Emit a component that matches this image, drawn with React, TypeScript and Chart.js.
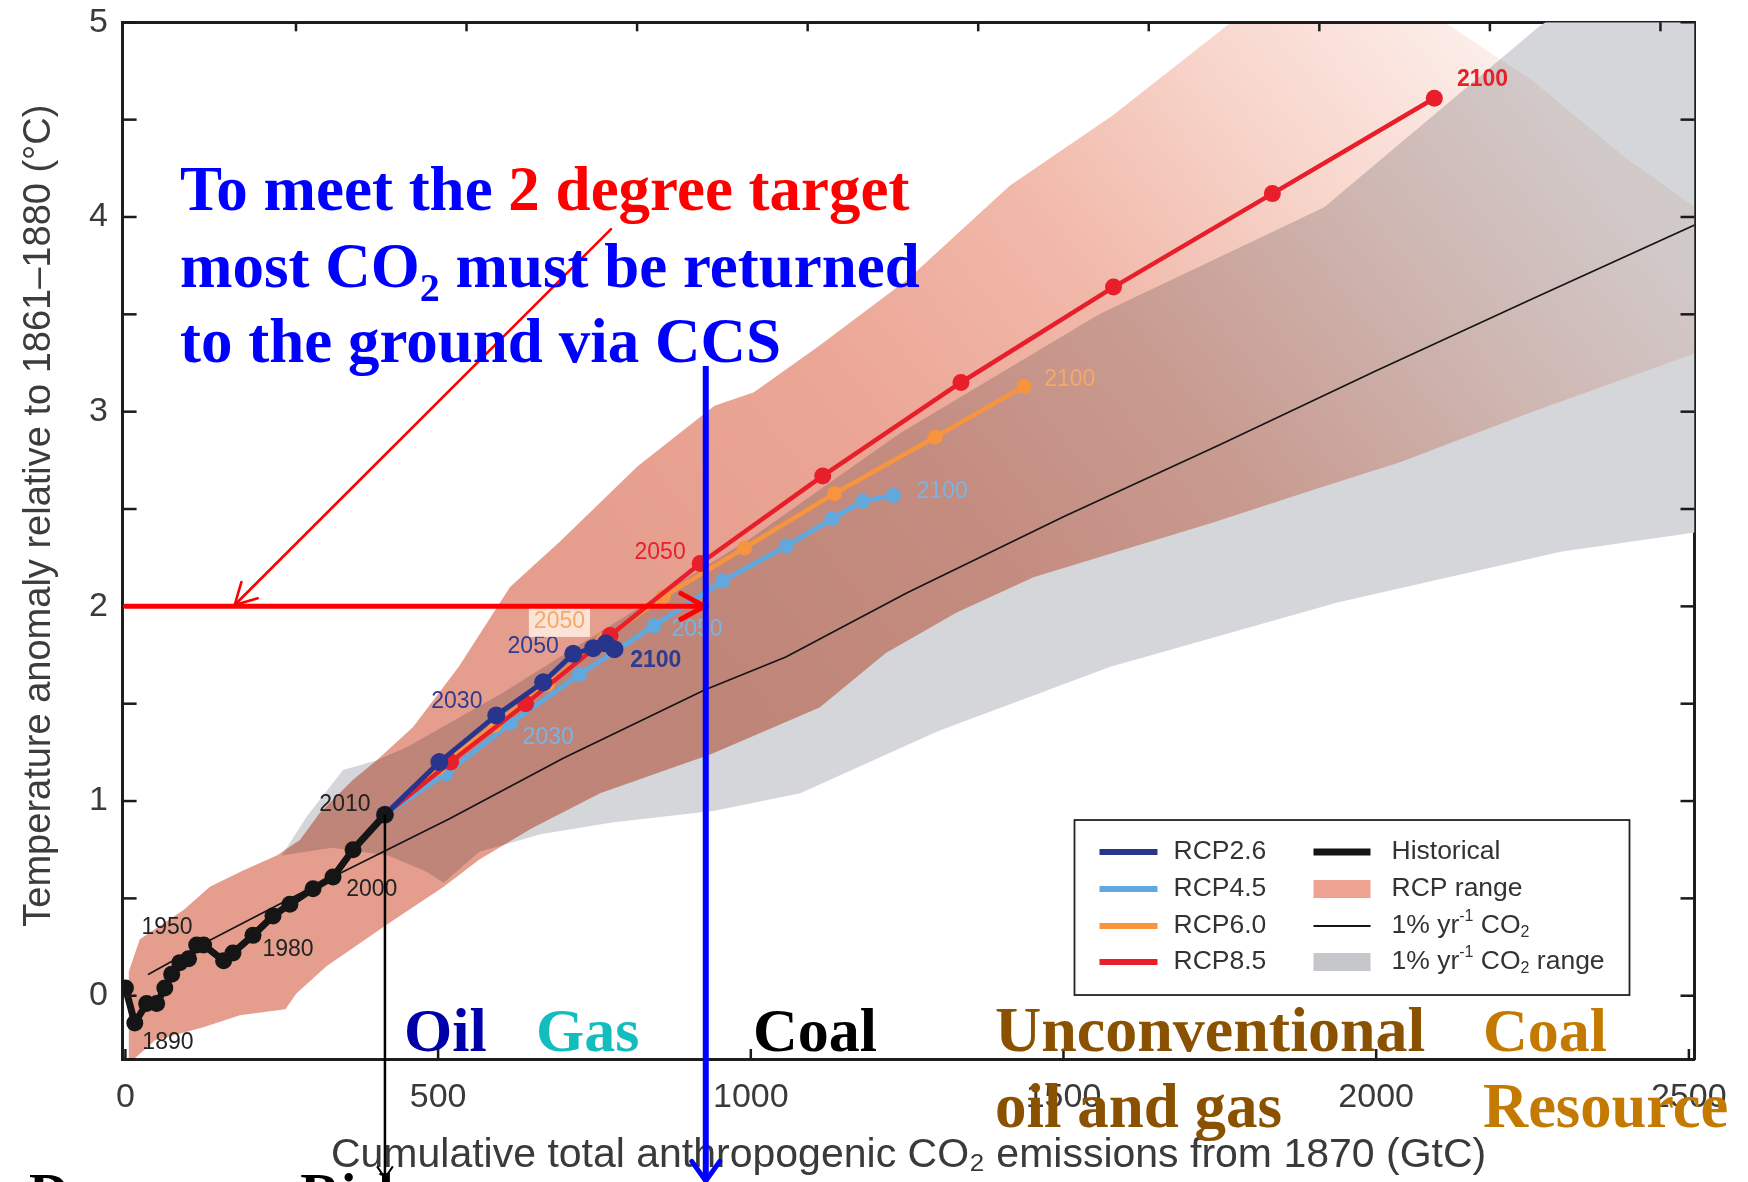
import React, { useEffect, useRef } from "react";
import { Chart, registerables } from "chart.js";

// ---------- plugin that multiplies band fills (so overlaps darken like the original) ----------
const bandBlendPlugin = {
  id: "bandBlend",
  beforeDatasetDraw(chart: any, args: any) {
    const ds: any = chart.data.datasets[args.index];
    if (ds && ds.blendMultiply) chart.ctx.globalCompositeOperation = "multiply";
  },
  afterDatasetDraw(chart: any) {
    chart.ctx.globalCompositeOperation = "source-over";
  },
};
Chart.register(bandBlendPlugin as any);
Chart.register(...registerables);

const W = 1748;
const H = 1182;
const SANS = '"Liberation Sans", Arial, Helvetica, sans-serif';
const SERIF = '"Liberation Serif", "Times New Roman", Times, serif';

// ---------- data: cumulative emissions (GtC) vs temperature anomaly (°C) ----------
const historicalX = [0, 15, 34, 50, 63, 74, 87, 101, 114, 125, 157, 172, 204, 236, 263, 300, 332, 364, 415];
const historicalY = [0.04, -0.14, -0.04, -0.04, 0.04, 0.11, 0.17, 0.19, 0.26, 0.26, 0.18, 0.22, 0.31, 0.41, 0.47, 0.55, 0.61, 0.75, 0.93];

const rcp26X = [415, 502, 593, 668, 716, 748, 768, 782];
const rcp26Y = [0.93, 1.2, 1.44, 1.61, 1.756, 1.785, 1.81, 1.78];

const rcp45X = [415, 512, 616, 726, 845, 955, 1057, 1130, 1179, 1228];
const rcp45Y = [0.93, 1.14, 1.4, 1.65, 1.9, 2.13, 2.31, 2.45, 2.54, 2.57];

const rcp60X = [415, 500, 590, 675, 765, 860, 990, 1134, 1295, 1437];
const rcp60Y = [0.93, 1.17, 1.39, 1.6, 1.83, 2.05, 2.3, 2.58, 2.87, 3.13];

const rcp85X = [415, 520, 640, 775, 919, 1115, 1336, 1580, 1834, 2093];
const rcp85Y = [0.93, 1.2, 1.5, 1.85, 2.22, 2.67, 3.15, 3.64, 4.12, 4.61];

const onePctX = [37, 135, 300, 519, 700, 926, 1056, 1250, 1500, 1750, 2000, 2250, 2510];
const onePctY = [0.11, 0.285, 0.56, 0.91, 1.22, 1.57, 1.74, 2.07, 2.46, 2.83, 3.21, 3.58, 3.96];

const rcpRangeUpperX = [5, 23, 93, 135, 189, 242, 279, 311, 364, 402, 460, 533, 615, 697, 819, 942, 1005, 1110, 1251, 1414, 1578, 1760, 1900, 2100, 2250, 2400, 2510];
const rcpRangeUpperY = [0.12, 0.29, 0.44, 0.56, 0.645, 0.72, 0.8, 0.94, 1.11, 1.21, 1.38, 1.69, 2.1, 2.34, 2.72, 3.03, 3.1, 3.34, 3.68, 4.16, 4.52, 4.98, 5.3, 5.02, 4.7, 4.3, 4.05];
const rcpRangeLowerX = [5, 12, 47, 126, 183, 256, 273, 321, 420, 509, 566, 650, 759, 936, 1110, 1216, 1330, 1452, 1575, 1738, 1901, 2038, 2250, 2510];
const rcpRangeLowerY = [-0.4, -0.33, -0.23, -0.16, -0.1, -0.07, 0.01, 0.15, 0.37, 0.56, 0.7, 0.86, 1.04, 1.24, 1.48, 1.76, 1.97, 2.15, 2.27, 2.43, 2.6, 2.74, 3.0, 3.3];

const onePctRangeUpperX = [250, 290, 348, 402, 452, 600, 800, 1000, 1239, 1557, 1917, 2028, 2261, 2510];
const onePctRangeUpperY = [0.72, 0.92, 1.16, 1.21, 1.28, 1.55, 1.95, 2.35, 2.89, 3.5, 4.05, 4.35, 4.98, 5.5];
const onePctRangeLowerX = [250, 330, 420, 480, 509, 566, 664, 778, 942, 1079, 1300, 1575, 1938, 2295, 2510];
const onePctRangeLowerY = [0.72, 0.76, 0.72, 0.64, 0.58, 0.74, 0.83, 0.89, 0.95, 1.04, 1.36, 1.69, 2.02, 2.28, 2.38];

// ---------- axes ----------
const xTickValues = [0, 500, 1000, 1500, 2000, 2500];
const yTickValues = [0, 1, 2, 3, 4, 5];
const yTickMarkValues = [0, 0.5, 1, 1.5, 2, 2.5, 3, 3.5, 4, 4.5, 5];
const topTickValuesGtCO2 = [1000, 2000, 3000, 4000, 5000, 6000, 7000, 8000, 9000];
const X_MIN = -4.5;
const X_MAX = 2509;
const Y_MIN = -0.325;
const Y_MAX = 5;
const GTC_TO_GTCO2 = 44 / 12;

// ---------- colours ----------
const C_RCP26 = "#28358c";
const C_RCP45 = "#62a8dc";
const C_RCP60 = "#f7943d";
const C_RCP85 = "#e81f2b";
const C_HIST = "#151515";
const C_RCP_RANGE = "#eca696";
const C_PCT_RANGE = "#d4d6d9";

// ---------- annotation content ----------
const yearLabels = [
  { text: "1890", x: 68, y: -0.243, color: "#222", bold: false },
  { text: "1950", x: 66.5, y: 0.348, color: "#222", bold: false },
  { text: "1980", x: 260, y: 0.235, color: "#222", bold: false },
  { text: "2000", x: 394, y: 0.543, color: "#222", bold: false },
  { text: "2010", x: 351, y: 0.98, color: "#222", bold: false },
  { text: "2030", x: 530, y: 1.509, color: "#2f3b8f", bold: false },
  { text: "2050", x: 652, y: 1.791, color: "#2f3b8f", bold: false },
  { text: "2100", x: 848, y: 1.719, color: "#2f3b8f", bold: true },
  { text: "2030", x: 676, y: 1.324, color: "#7ab4e2", bold: false },
  { text: "2050", x: 914, y: 1.878, color: "#7ab4e2", bold: false },
  { text: "2100", x: 1306, y: 2.589, color: "#7ab4e2", bold: false },
  { text: "2050", x: 694, y: 1.92, color: "#f6a868", bold: false, box: true },
  { text: "2100", x: 1510, y: 3.163, color: "#f6a868", bold: false },
  { text: "2050", x: 855, y: 2.274, color: "#e8202a", bold: false },
  { text: "2100", x: 2170, y: 4.704, color: "#e8202a", bold: true },
];

const pts = (xs: number[], ys: number[]) => xs.map((x, i) => ({ x, y: ys[i] }));

type Run = { t: string; color: string; size?: number; dy?: number };

function drawRuns(ctx: CanvasRenderingContext2D, x: number, y: number, runs: Run[], baseSize: number, family: string, weight: string) {
  let cx = x;
  for (const r of runs) {
    const size = r.size ?? baseSize;
    ctx.font = `${weight} ${size}px ${family}`;
    ctx.fillStyle = r.color;
    ctx.fillText(r.t, cx, y + (r.dy ?? 0));
    cx += ctx.measureText(r.t).width;
  }
}

function arrowHead(ctx: CanvasRenderingContext2D, tipX: number, tipY: number, fromX: number, fromY: number, len: number, half: number) {
  const ang = Math.atan2(tipY - fromY, tipX - fromX);
  ctx.beginPath();
  ctx.moveTo(tipX - len * Math.cos(ang - half), tipY - len * Math.sin(ang - half));
  ctx.lineTo(tipX, tipY);
  ctx.lineTo(tipX - len * Math.cos(ang + half), tipY - len * Math.sin(ang + half));
  ctx.stroke();
}

const annotationPlugin = {
  id: "slideAnnotations",
  afterDraw(chart: any) {
    const { ctx, chartArea: a, scales } = chart;
    const sx = (v: number) => scales.x.getPixelForValue(v);
    const sy = (v: number) => scales.y.getPixelForValue(v);
    ctx.save();

    // inward tick marks on all four sides
    ctx.strokeStyle = "#1a1a1a";
    ctx.lineWidth = 2.5;
    const seg = (x1: number, y1: number, x2: number, y2: number) => {
      ctx.beginPath();
      ctx.moveTo(x1, y1);
      ctx.lineTo(x2, y2);
      ctx.stroke();
    };
    for (const v of yTickMarkValues) {
      const py = sy(v);
      seg(a.left, py, a.left + 14, py);
      seg(a.right, py, a.right - 14, py);
    }
    for (const v of xTickValues) {
      const px = sx(v);
      seg(px, a.bottom, px, a.bottom - 10);
    }
    for (const v of topTickValuesGtCO2) {
      const px = scales.x2.getPixelForValue(v);
      seg(px, a.top, px, a.top + 9);
    }

    // y-axis title
    ctx.save();
    ctx.translate(sx(-138), sy(2.466));
    ctx.rotate(-Math.PI / 2);
    ctx.font = `38px ${SANS}`;
    ctx.fillStyle = "#3c3c3c";
    ctx.textAlign = "center";
    ctx.textBaseline = "middle";
    ctx.fillText("Temperature anomaly relative to 1861\u20131880 (\u00b0C)", 0, 0);
    ctx.restore();

    // year labels
    ctx.textAlign = "center";
    ctx.textBaseline = "middle";
    for (const l of yearLabels) {
      ctx.font = `${l.bold ? "bold " : ""}23px ${SANS}`;
      const px = sx(l.x);
      const py = sy(l.y);
      if ((l as any).box) {
        const w = ctx.measureText(l.text).width + 10;
        ctx.fillStyle = "rgba(255,238,228,0.85)";
        ctx.fillRect(px - w / 2, py - 15, w, 30);
      }
      ctx.fillStyle = l.color;
      ctx.fillText(l.text, px, py);
    }

    // legend
    const bx = sx(1517.6);
    const by = sy(0.9025);
    const bw = 555;
    const bh = 175;
    ctx.fillStyle = "#ffffff";
    ctx.fillRect(bx, by, bw, bh);
    ctx.strokeStyle = "#222";
    ctx.lineWidth = 1.8;
    ctx.strokeRect(bx, by, bw, bh);
    const rows = [32, 69, 106, 142];
    const ds = chart.data.datasets;
    const col1 = [ds[1], ds[4], ds[3], ds[2]];
    ctx.textAlign = "left";
    ctx.textBaseline = "middle";
    const LF = 26.5;
    col1.forEach((d: any, i: number) => {
      const y = by + rows[i];
      ctx.strokeStyle = d.borderColor;
      ctx.lineWidth = 6;
      seg(bx + 25, y, bx + 83, y);
      ctx.font = `${LF}px ${SANS}`;
      ctx.fillStyle = "#333";
      ctx.fillText(d.label, bx + 99, y);
    });
    const c2x = bx + 239;
    const t2x = bx + 317;
    // Historical
    ctx.strokeStyle = C_HIST;
    ctx.lineWidth = 7;
    seg(c2x, by + rows[0], c2x + 57, by + rows[0]);
    ctx.font = `${LF}px ${SANS}`;
    ctx.fillStyle = "#333";
    ctx.fillText(ds[0].label, t2x, by + rows[0]);
    // RCP range
    ctx.fillStyle = "#eda292";
    ctx.fillRect(c2x, by + rows[1] - 9, 57, 18);
    ctx.fillStyle = "#333";
    ctx.fillText("RCP range", t2x, by + rows[1]);
    // 1% line
    ctx.strokeStyle = C_HIST;
    ctx.lineWidth = 2.2;
    seg(c2x, by + rows[2], c2x + 57, by + rows[2]);
    const pctRuns = (extra: string): Run[] => {
      const r: Run[] = [
        { t: "1% yr", color: "#333" },
        { t: "-1", color: "#333", size: 16, dy: -9 },
        { t: " CO", color: "#333" },
        { t: "2", color: "#333", size: 16, dy: 7 },
      ];
      if (extra) r.push({ t: extra, color: "#333" });
      return r;
    };
    drawRuns(ctx, t2x, by + rows[2], pctRuns(""), LF, SANS, "normal");
    // 1% range
    ctx.fillStyle = "#c6c7ca";
    ctx.fillRect(c2x, by + rows[3] - 9, 57, 18);
    drawRuns(ctx, t2x, by + rows[3], pctRuns(" range"), LF, SANS, "normal");

    // red horizontal arrow at 2 °C
    ctx.strokeStyle = "#ff0000";
    ctx.lineCap = "round";
    ctx.lineWidth = 5;
    seg(sx(0), sy(2), sx(926), sy(2));
    arrowHead(ctx, sx(926), sy(2), sx(0), sy(2), 27, 0.5);

    // red diagonal arrow from the text to the 2 °C line
    ctx.lineWidth = 2.6;
    seg(sx(776.5), sy(3.938), sx(174.7), sy(2.007));
    arrowHead(ctx, sx(174.7), sy(2.007), sx(776.5), sy(3.938), 24, 0.5);

    // blue vertical arrow
    ctx.strokeStyle = "#0000ff";
    ctx.lineWidth = 6;
    ctx.lineCap = "butt";
    seg(sx(928), sy(3.235), sx(928), sy(-0.951));
    ctx.lineCap = "round";
    ctx.lineWidth = 5;
    arrowHead(ctx, sx(928), sy(-0.951), sx(928), sy(0), 24, 0.62);

    // black vertical line from 2010
    ctx.strokeStyle = "#000";
    ctx.lineWidth = 2.5;
    ctx.lineCap = "butt";
    seg(sx(415), sy(0.93), sx(415), sy(-0.936));
    ctx.lineWidth = 2;
    arrowHead(ctx, sx(415), sy(-0.936), sx(415), sy(0), 14, 0.6);

    // big slide text
    ctx.textAlign = "left";
    ctx.textBaseline = "alphabetic";
    const BLUE = "#0000ff";
    const RED = "#ff0000";
    drawRuns(ctx, sx(87.3), sy(4.036), [{ t: "To meet the ", color: BLUE }, { t: "2 degree target", color: RED }], 63, SERIF, "bold");
    drawRuns(ctx, sx(87.3), sy(3.64), [{ t: "most CO", color: BLUE }, { t: "2", color: BLUE, size: 40, dy: 14 }, { t: " must be returned", color: BLUE }], 63, SERIF, "bold");
    drawRuns(ctx, sx(87.3), sy(3.255), [{ t: "to the ground via CCS", color: BLUE }], 63, SERIF, "bold");

    const low1 = sy(-0.284);
    const low2 = sy(-0.674);
    drawRuns(ctx, sx(445.5), low1, [{ t: "Oil", color: "#0000a8" }], 62, SERIF, "bold");
    drawRuns(ctx, sx(656.5), low1, [{ t: "Gas", color: "#14bdbd" }], 62, SERIF, "bold");
    drawRuns(ctx, sx(1003.5), low1, [{ t: "Coal", color: "#000000" }], 62, SERIF, "bold");
    drawRuns(ctx, sx(1390.5), low1, [{ t: "Unconventional", color: "#8a5200" }], 64, SERIF, "bold");
    drawRuns(ctx, sx(1390.5), low2, [{ t: "oil and gas", color: "#8a5200" }], 63, SERIF, "bold");
    drawRuns(ctx, sx(2170.8), low1, [{ t: "Coal", color: "#c47a00" }], 62, SERIF, "bold");
    drawRuns(ctx, sx(2170.8), low2, [{ t: "Resource", color: "#c47a00" }], 62.5, SERIF, "bold");

    // caption cut off by the bottom edge of the slide (only the tops of the letters show)
    drawRuns(ctx, sx(-154), sy(-1.115), [{ t: "Dangerous Risk", color: "#000000" }], 56, SERIF, "bold");

    ctx.restore();
  },
};

// diagonal fade: the RCP range gets paler towards the upper right
function rcpGradient(context: any) {
  const chart = context.chart;
  const xs = chart.scales && chart.scales.x;
  const ys = chart.scales && chart.scales.y;
  if (!chart.chartArea || !xs || !ys) return C_RCP_RANGE;
  const g = chart.ctx.createLinearGradient(xs.getPixelForValue(800), ys.getPixelForValue(2), xs.getPixelForValue(2100), ys.getPixelForValue(5.3));
  g.addColorStop(0, "#e59e8d");
  g.addColorStop(0.3, C_RCP_RANGE);
  g.addColorStop(0.55, "#f1b9aa");
  g.addColorStop(0.8, "#f8d9d0");
  g.addColorStop(1, "#fcefeb");
  return g;
}

export default function App() {
  const ref = useRef<HTMLCanvasElement>(null);
  useEffect(() => {
    document.body.style.margin = "0";
    document.body.style.overflow = "hidden";
    const canvas = ref.current!;
    const lineDs = (label: string, xs: number[], ys: number[], color: string, width: number, radius: number, order: number) => ({
      label,
      data: pts(xs, ys),
      borderColor: color,
      backgroundColor: color,
      borderWidth: width,
      pointRadius: radius,
      pointBorderWidth: 0,
      pointBackgroundColor: color,
      showLine: true,
      tension: 0,
      borderJoinStyle: "round",
      borderCapStyle: "round",
      fill: false,
      order,
    });
    const chart = new Chart(canvas, {
      type: "scatter",
      data: {
        datasets: [
          lineDs("Historical", historicalX, historicalY, C_HIST, 7, 8.5, 1),
          lineDs("RCP2.6", rcp26X, rcp26Y, C_RCP26, 5, 9, 2),
          lineDs("RCP8.5", rcp85X, rcp85Y, C_RCP85, 4.5, 8.5, 3),
          lineDs("RCP6.0", rcp60X, rcp60Y, C_RCP60, 4.5, 7.5, 4),
          lineDs("RCP4.5", rcp45X, rcp45Y, C_RCP45, 5, 7.5, 5),
          lineDs("1% yr\u207b\u00b9 CO\u2082", onePctX, onePctY, C_HIST, 1.6, 0, 6),
          { label: "RCP range upper", data: pts(rcpRangeUpperX, rcpRangeUpperY), borderWidth: 0, borderColor: "transparent", pointRadius: 0, showLine: true, fill: false, order: 20 },
          { label: "RCP range", data: pts(rcpRangeLowerX, rcpRangeLowerY), borderWidth: 0, borderColor: "transparent", pointRadius: 0, showLine: true, fill: "-1", backgroundColor: rcpGradient, order: 21, blendMultiply: true },
          { label: "1% range upper", data: pts(onePctRangeUpperX, onePctRangeUpperY), borderWidth: 0, borderColor: "transparent", pointRadius: 0, showLine: true, fill: false, order: 30 },
          { label: "1% yr\u207b\u00b9 CO\u2082 range", data: pts(onePctRangeLowerX, onePctRangeLowerY), borderWidth: 0, borderColor: "transparent", pointRadius: 0, showLine: true, fill: "-1", backgroundColor: C_PCT_RANGE, order: 31 },
        ] as any,
      },
      options: {
        animation: false,
        responsive: false,
        maintainAspectRatio: false,
        events: [],
        layout: { padding: { left: 0, right: W - 1694.5, top: 22.3, bottom: 0 } },
        plugins: {
          legend: { display: false },
          tooltip: { enabled: false },
          filler: { propagate: false },
        },
        scales: {
          x: {
            type: "linear",
            position: "bottom",
            min: X_MIN,
            max: X_MAX,
            z: 1,
            afterBuildTicks: (s: any) => {
              s.ticks = xTickValues.map((v) => ({ value: v }));
            },
            afterFit: (s: any) => {
              s.height = H - 1059;
              s.paddingLeft = 0;
              s.paddingRight = 0;
            },
            grid: { display: true, drawOnChartArea: false, drawTicks: false },
            border: { display: true, color: "#1e1e1e", width: 3 },
            ticks: { font: { family: SANS, size: 34 }, color: "#3a3a3a", padding: 18.6, maxRotation: 0, autoSkip: false, callback: (v: any) => String(v) },
            title: {
              display: true,
              text: "Cumulative total anthropogenic CO\u2082 emissions from 1870 (GtC)",
              font: { family: SANS, size: 41 },
              color: "#3a3a3a",
              padding: { top: 0, bottom: 2 },
            },
          },
          x2: {
            type: "linear",
            position: "top",
            min: X_MIN * GTC_TO_GTCO2,
            max: X_MAX * GTC_TO_GTCO2,
            z: 1,
            afterBuildTicks: (s: any) => {
              s.ticks = topTickValuesGtCO2.map((v) => ({ value: v }));
            },
            afterFit: (s: any) => {
              s.height = 0;
              s.paddingLeft = 0;
              s.paddingRight = 0;
            },
            grid: { display: true, drawOnChartArea: false, drawTicks: false },
            border: { display: true, color: "#1e1e1e", width: 3 },
            ticks: { display: false },
          },
          y: {
            type: "linear",
            position: "left",
            min: Y_MIN,
            max: Y_MAX,
            z: 1,
            afterBuildTicks: (s: any) => {
              s.ticks = yTickValues.map((v) => ({ value: v }));
            },
            afterFit: (s: any) => {
              s.width = 122.6;
              s.paddingTop = 0;
              s.paddingBottom = 0;
            },
            grid: { display: true, drawOnChartArea: false, drawTicks: false },
            border: { display: true, color: "#1e1e1e", width: 3 },
            ticks: { font: { family: SANS, size: 34 }, color: "#3a3a3a", padding: 14.6, autoSkip: false, callback: (v: any) => String(v) },
          },
          y2: {
            type: "linear",
            position: "right",
            min: Y_MIN,
            max: Y_MAX,
            z: 1,
            afterFit: (s: any) => {
              s.width = 0;
              s.paddingTop = 0;
              s.paddingBottom = 0;
            },
            grid: { display: true, drawOnChartArea: false, drawTicks: false },
            border: { display: true, color: "#1e1e1e", width: 3 },
            ticks: { display: false },
          },
        },
      } as any,
      plugins: [annotationPlugin as any],
    });
    return () => chart.destroy();
  }, []);
  return <canvas ref={ref} width={W} height={H} style={{ display: "block", width: W, height: H }} />;
}
